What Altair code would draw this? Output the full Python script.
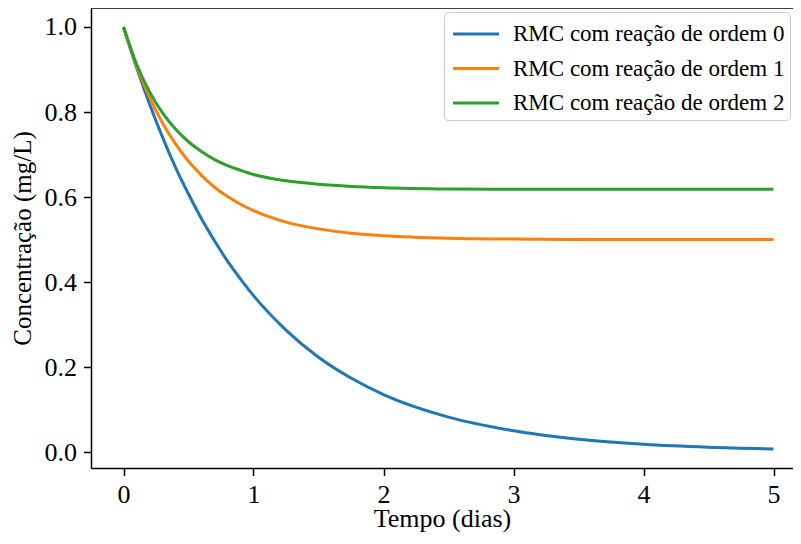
import altair as alt
import pandas as pd

tempo = [0, 0.1, 0.2, 0.3, 0.4, 0.5, 0.6, 0.7, 0.8, 0.9, 1.0, 1.25, 1.5, 1.75,
         2.0, 2.5, 3.0, 3.5, 4.0, 4.5, 5.0]
ordem0 = [1.0, 0.905, 0.819, 0.741, 0.670, 0.607, 0.549, 0.497, 0.449, 0.407,
          0.368, 0.287, 0.223, 0.174, 0.135, 0.082, 0.050, 0.030, 0.018, 0.011, 0.007]
ordem1 = [1.0, 0.909, 0.835, 0.774, 0.725, 0.684, 0.651, 0.623, 0.601, 0.583,
          0.568, 0.541, 0.525, 0.515, 0.509, 0.503, 0.501, 0.500, 0.500, 0.500, 0.500]
ordem2 = [1.0, 0.913, 0.848, 0.798, 0.760, 0.730, 0.707, 0.688, 0.674, 0.663,
          0.653, 0.638, 0.630, 0.625, 0.622, 0.619, 0.618, 0.618, 0.618, 0.618, 0.618]

series_names = ["RMC com reação de ordem 0", "RMC com reação de ordem 1",
                "RMC com reação de ordem 2"]
series_colors = ["#1f77b4", "#ff7f0e", "#2ca02c"]
x_ticks = [0, 1, 2, 3, 4, 5]
y_ticks = [0.0, 0.2, 0.4, 0.6, 0.8, 1.0]

rows = []
for name, vals in zip(series_names, [ordem0, ordem1, ordem2]):
    for i, (t, c) in enumerate(zip(tempo, vals)):
        rows.append({"t": t, "c": c, "serie": name, "ordem": i})
df = pd.DataFrame(rows)

FONT = "Liberation Serif"
W, H = 702, 460

lines = alt.Chart(df).mark_line(strokeWidth=3, interpolate="monotone").encode(
    x=alt.X("t:Q",
            scale=alt.Scale(domain=[-0.25, 5.15], nice=False, zero=False),
            axis=alt.Axis(values=x_ticks, format="d", grid=False,
                          title="Tempo (dias)", titleY=58,
                          titleBaseline="alphabetic")),
    y=alt.Y("c:Q",
            scale=alt.Scale(domain=[-0.0376, 1.0447], nice=False, zero=False),
            axis=alt.Axis(values=y_ticks, format=".1f", grid=False,
                          title="Concentração (mg/L)", titleX=-61,
                          titleFontSize=25, titleBaseline="alphabetic")),
    color=alt.Color("serie:N", title=None,
                    scale=alt.Scale(domain=series_names, range=series_colors),
                    legend=alt.Legend(orient="none", legendX=353, legendY=4,
                                      symbolType="M-1.5,0H1.5", symbolSize=940,
                                      symbolOffset=10,
                                      symbolStrokeWidth=3, labelFontSize=23,
                                      labelFont=FONT, labelColor="black",
                                      labelLimit=500,
                                      rowPadding=5.5, padding=5,
                                      fillColor="white", strokeColor="#cccccc",
                                      cornerRadius=4, labelOffset=20)),
    order="ordem:Q",
)

top_spine = alt.Chart(pd.DataFrame({"a": [0]})).mark_rule(
    color="black", strokeWidth=1.5).encode(
    x=alt.value(0), x2=alt.value(W), y=alt.value(0))

chart = alt.layer(lines, top_spine).properties(
    width=W, height=H,
    autosize=alt.AutoSizeParams(type="none"),
    padding={"left": 83, "top": 0, "right": 0, "bottom": 64},
    background="white",
).configure_view(stroke=None).configure_axis(
    labelFont=FONT, titleFont=FONT, labelFontSize=26, titleFontSize=26,
    titleFontWeight="normal", labelColor="black", titleColor="black",
    domainColor="black", domainWidth=1.5, tickColor="black", tickWidth=1.5,
    tickSize=7.5,
).configure_axisY(labelPadding=7).configure_axisX(labelPadding=6)

chart.save("out.html", embed_options={"renderer": "svg", "actions": False})
